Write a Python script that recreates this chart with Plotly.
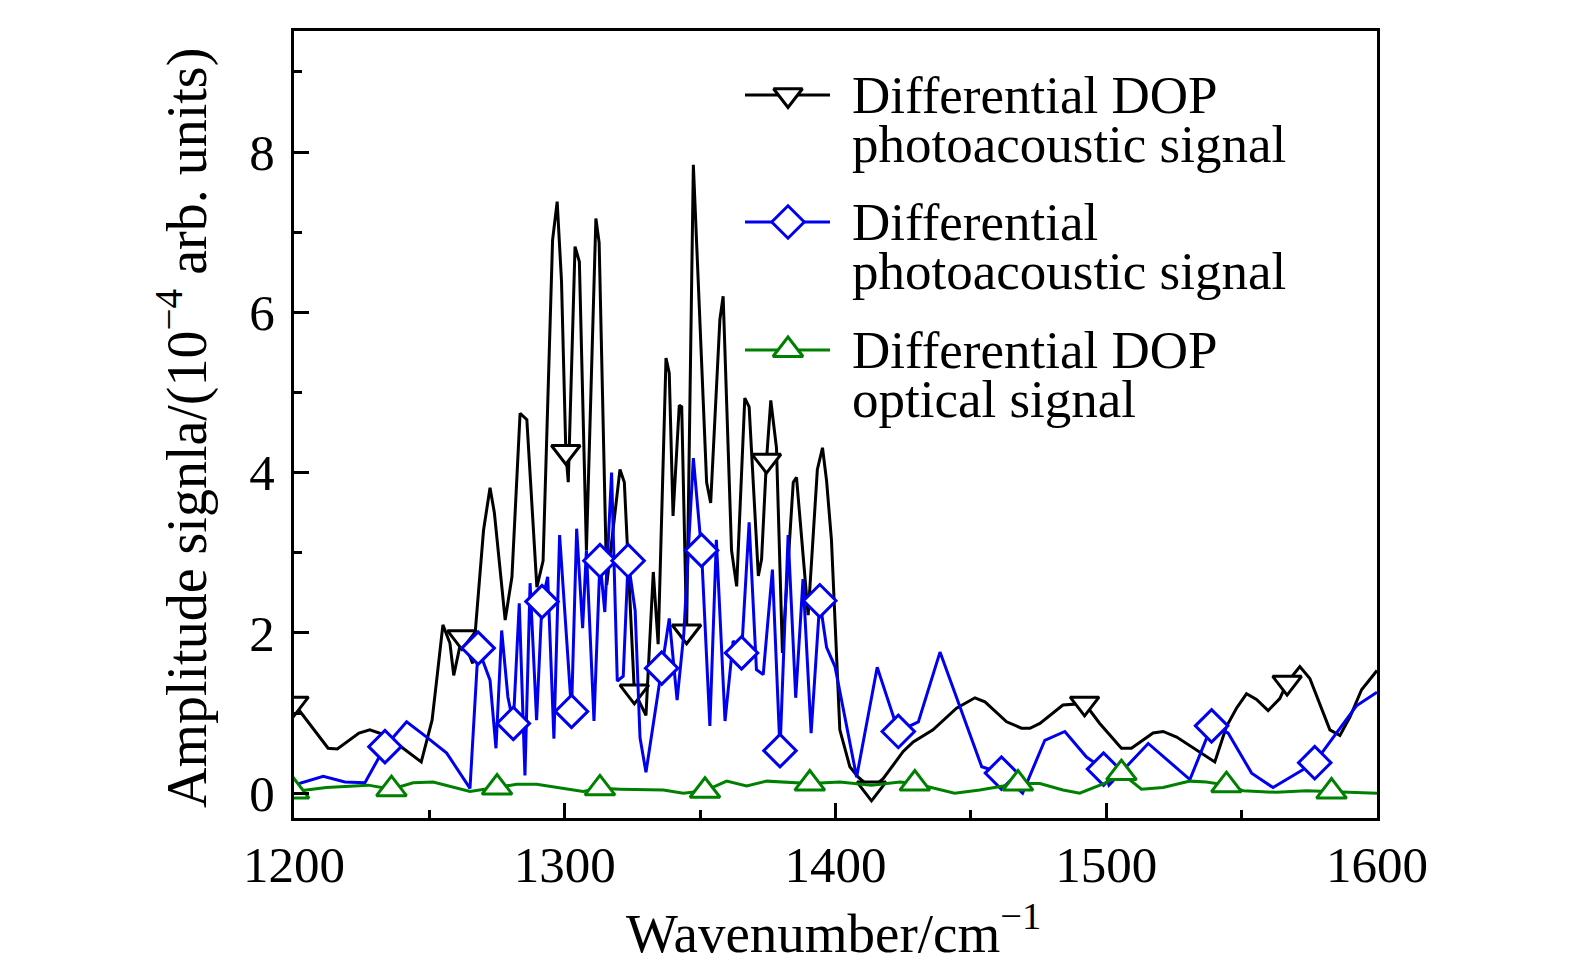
import plotly.graph_objects as go

# ---------------- data ----------------
dop_pa_x = [1200, 1212.6, 1216, 1224, 1228, 1234, 1247, 1251, 1253, 1255, 1257.6, 1259, 1262, 1266,
            1270, 1272.4, 1274, 1278, 1280.5, 1283.5, 1286, 1289.7, 1292, 1295.5, 1297.2, 1298.8,
            1300.4, 1301.3, 1303.8, 1305.4, 1308, 1311.5, 1312.7, 1315.5, 1320.4, 1322, 1325.7,
            1330, 1332.7, 1334.5, 1337.4, 1338.6, 1340, 1342.3, 1343.2, 1345, 1347.5, 1349.7,
            1352.4, 1353.9, 1357.3, 1358.5, 1361.6, 1363.5, 1366.5, 1368.1, 1371.5, 1372.7,
            1374.5, 1376.1, 1378.2, 1380.4, 1384.4, 1385.6, 1389.9, 1393.3, 1395.2, 1396.7,
            1398.5, 1401.6, 1405.3, 1408.4, 1413.3, 1417.6, 1425, 1428.7, 1436, 1444.7, 1451.5,
            1455.2, 1463.2, 1468.7, 1471.8, 1475.5, 1484, 1492, 1497.6, 1505.6, 1509.3, 1517.3,
            1521, 1526, 1540.1, 1544.4, 1548.1, 1551.8, 1555.5, 1559.8, 1564.1, 1566.8, 1571.5,
            1575.2, 1582.6, 1586.3, 1590, 1594.3, 1600]
dop_pa_y = [1.12, 0.56, 0.55, 0.75, 0.79, 0.72, 0.39, 0.91, 1.5, 2.1, 1.87, 1.47, 1.95, 1.62,
            3.28, 3.81, 3.5, 2.16, 2.7, 4.74, 4.66, 2.57, 2.9, 6.90, 7.38, 6.39,
            4.26, 3.88, 6.82, 6.63, 3.03, 7.17, 6.87, 2.6, 4.04, 3.88, 1.27,
            0.97, 2.76, 1.86, 5.43, 5.24, 3.46, 4.84, 4.82, 2.02, 7.84, 6.02,
            3.88, 3.62, 5.91, 6.2, 3.03, 2.58, 4.93, 4.82, 2.71, 2.92,
            4.15, 4.9, 4.31, 1.75, 3.88, 3.94, 2.22, 4.04, 4.31, 3.9,
            3.16, 0.79, 0.33, 0.2, 0.06, 0.18, 0.52, 0.64, 0.79, 1.06, 1.19,
            1.14, 0.89, 0.81, 0.81, 0.87, 1.1, 1.12, 0.87, 0.56, 0.56, 0.75,
            0.77, 0.70, 0.39, 0.83, 1.06, 1.24, 1.17, 1.03, 1.18, 1.38, 1.58,
            1.43, 0.79, 0.72, 0.95, 1.29, 1.53]
dop_pa_marks = [1200, 1262, 1300.4, 1325.7, 1345, 1374.5, 1413.3, 1492, 1566.8]

pa_x = [1200, 1210.8, 1218.8, 1226.2, 1233.6, 1241.6, 1249, 1256.4, 1265, 1268, 1272.4, 1274.6,
        1276.7, 1279, 1281, 1283.2, 1285.3, 1287.2, 1289.6, 1291.6, 1293.7, 1296, 1298.1, 1302.5,
        1304.4, 1306.6, 1308, 1310.8, 1313, 1314.8, 1317.3, 1319.4, 1321.6, 1323.4, 1326, 1327.8,
        1330, 1335.8, 1338.6, 1341.5, 1344, 1347.5, 1350.5, 1353.6, 1356, 1359.2, 1362.2, 1365.3,
        1368.1, 1370.8, 1373.3, 1376.7, 1379.5, 1382.5, 1385.3, 1388, 1391, 1394.2, 1396.7,
        1399.8, 1407.8, 1415.4, 1423.2, 1430.6, 1438.6, 1454, 1461.3, 1469.1, 1477.3, 1484.7,
        1492.7, 1499, 1501, 1515.5, 1530.9, 1538.9, 1545, 1553.7, 1561.6, 1577, 1592.4, 1600]
pa_y = [0.10, 0.21, 0.14, 0.13, 0.58, 0.89, 0.70, 0.50, 0.06, 1.81, 1.41, 0.56,
        2.03, 1.2, 0.87, 2.37, 0.22, 2.62, 0.91, 2.39, 2.7, 0.68, 3.22, 1.02,
        3.3, 2.06, 3.03, 0.9, 2.9, 2.26, 4.0, 1.40, 1.46, 2.9, 2.28, 0.69,
        0.26, 1.56, 2.18, 1.16, 2.0, 4.18, 3.03, 0.84, 3.16, 0.90, 1.9, 1.75,
        3.38, 1.54, 1.48, 2.79, 0.53, 3.22, 1.19, 2.67, 0.75, 2.40, 1.82,
        1.58, 0.2, 1.57, 0.77, 0.89, 1.76, 0.33, 0.25, 0.0, 0.66, 0.77,
        0.45, 0.30, 0.1, 0.62, 0.17, 0.84, 0.75, 0.25, 0.07, 0.38, 1.09, 1.26]
pa_marks = [1233.6, 1268, 1281, 1291.6, 1302.5, 1313, 1323.4, 1335.8, 1350.5, 1365.3, 1379.5,
            1394.2, 1423.2, 1461.3, 1499, 1538.9, 1577]

dop_opt_x = [1200, 1212, 1227.4, 1236, 1244, 1251.4, 1265, 1275, 1282.2, 1289.6, 1306.8, 1313,
             1320.4, 1336.4, 1343.8, 1351.8, 1359.8, 1367.2, 1374.6, 1390.5, 1401.6, 1413.3,
             1423.8, 1429.3, 1444, 1453.3, 1467.4, 1475.5, 1484, 1490.2, 1500, 1505.6, 1513,
             1521, 1530.9, 1537, 1544.4, 1550.6, 1562.9, 1574, 1583.2, 1600]
dop_opt_y = [0.02, 0.07, 0.1, 0.05, 0.13, 0.14, 0.02, 0.07, 0.11, 0.11, 0.02, 0.06,
             0.05, 0.04, 0.0, 0.03, 0.15, 0.09, 0.15, 0.12, 0.14, 0.1,
             0.14, 0.12, 0.0, 0.04, 0.12, 0.12, 0.04, 0.0, 0.13, 0.25, 0.05,
             0.07, 0.15, 0.14, 0.1, 0.03, 0.01, 0.03, 0.02, 0.0]
dop_opt_marks = [1200, 1236, 1275, 1313, 1351.8, 1390.5, 1429.3, 1467.4, 1505.6, 1544.4, 1583.2]

x_ticks = [1200, 1300, 1400, 1500, 1600]
y_ticks = [0, 2, 4, 6, 8]

names = [["Differential DOP", "photoacoustic signal"],
         ["Differential", "photoacoustic signal"],
         ["Differential DOP", "optical signal"]]

# ---------------- styles ----------------
FONT = "Liberation Serif"
BLACK = "#000000"
BLUE = "#0000f0"
GREEN = "#008000"

series = [
    (dop_pa_x, dop_pa_y, dop_pa_marks, BLACK, "triangle-down", 25),
    (pa_x, pa_y, pa_marks, BLUE, "diamond", 25),
    (dop_opt_x, dop_opt_y, dop_opt_marks, GREEN, "triangle-up", 26),
]
LW = 3.0
MLW = 3.0

fig = go.Figure()
for xs, ys, marks, col, sym, sz in series:
    fig.add_trace(go.Scatter(x=xs, y=ys, mode="lines", line=dict(color=col, width=LW),
                             showlegend=False, hoverinfo="skip", cliponaxis=True))
    mx = [x for x in xs if x in marks]
    my = [y for x, y in zip(xs, ys) if x in marks]
    fig.add_trace(go.Scatter(x=mx, y=my, mode="markers",
                             marker=dict(symbol=sym, size=sz, color="white",
                                         line=dict(color=col, width=MLW)),
                             showlegend=False, hoverinfo="skip", cliponaxis=True))

# ---------------- custom legend in pixel-coordinate overlay axes ----------------
L_PLOT, R_PLOT, T_PLOT, B_PLOT = 294, 1377, 31, 818
W, H = 1575, 974
legend_rows = [95, 222, 350]
for (xs, ys, marks, col, sym, sz), row, nm in zip(series, legend_rows, names):
    fig.add_trace(go.Scatter(x=[745, 830], y=[row, row], mode="lines", xaxis="x2", yaxis="y2",
                             line=dict(color=col, width=LW), showlegend=False, hoverinfo="skip"))
    fig.add_trace(go.Scatter(x=[788], y=[row], mode="markers", xaxis="x2", yaxis="y2",
                             marker=dict(symbol=sym, size=sz, color="white",
                                         line=dict(color=col, width=MLW)),
                             showlegend=False, hoverinfo="skip"))
    for k, line in enumerate(nm):
        fig.add_annotation(x=850, y=row + 49 * k, xref="x2", yref="y2", text=line,
                           showarrow=False, xanchor="left", yanchor="middle",
                           font=dict(family=FONT, size=53, color="black"))


def px_to_paper(px, py):
    return (px - L_PLOT) / (R_PLOT - L_PLOT), (B_PLOT - py) / (B_PLOT - T_PLOT)


# axis titles
yx, yy = px_to_paper(183, 428)
fig.add_annotation(x=yx, y=yy, xref="paper", yref="paper",
                   text="Amplitude signla/(10<sup>\u22124</sup> arb. units)",
                   textangle=-90, showarrow=False, xanchor="center", yanchor="middle",
                   font=dict(family=FONT, size=56, color="black"))
xx, xy = px_to_paper(833, 930)
fig.add_annotation(x=xx, y=xy, xref="paper", yref="paper",
                   text="Wavenumber/cm<sup>\u22121</sup>",
                   showarrow=False, xanchor="center", yanchor="middle",
                   font=dict(family=FONT, size=55, color="black"))

axis_common = dict(showline=True, linewidth=3, linecolor="black", mirror=True,
                   ticks="inside", ticklen=15, tickwidth=2.5, tickcolor="black",
                   showgrid=False, zeroline=False,
                   tickfont=dict(family=FONT, size=51, color="black"))

fig.update_layout(
    width=W, height=H,
    margin=dict(l=L_PLOT, r=W - R_PLOT, t=T_PLOT, b=H - B_PLOT),
    paper_bgcolor="white", plot_bgcolor="white",
    xaxis=dict(range=[1200, 1600], tickvals=x_ticks, ticklabelstandoff=0,
               minor=dict(ticks="inside", ticklen=8, tickwidth=2.5, tickcolor="black", dtick=50),
               **axis_common),
    yaxis=dict(range=[-0.31, 9.51], tickvals=y_ticks, ticklabelstandoff=6,
               minor=dict(ticks="inside", ticklen=8, tickwidth=2.5, tickcolor="black", dtick=1),
               **axis_common),
    xaxis2=dict(range=[L_PLOT, R_PLOT], overlaying="x", visible=False, anchor="y2"),
    yaxis2=dict(range=[B_PLOT, T_PLOT], overlaying="y", visible=False, anchor="x2"),
    showlegend=False,
)

fig.write_html("out.html", config={"displayModeBar": False},
               post_script="document.body.style.margin='0';")
